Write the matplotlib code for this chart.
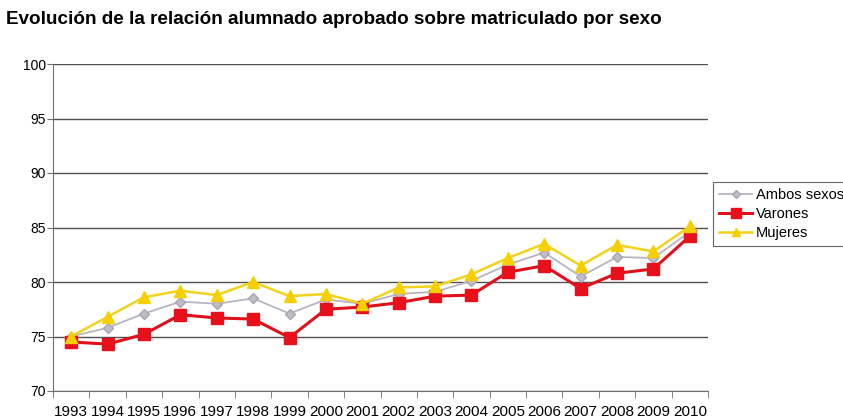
import matplotlib
matplotlib.use("Agg")
import matplotlib.pyplot as plt
import numpy as np

years = [str(y) for y in range(1993, 2011)]
ambos = [75.0, 75.8, 77.1, 78.2, 78.0, 78.5, 77.1, 78.4, 78.0, 78.9, 79.1, 80.1, 81.6, 82.7, 80.5, 82.3, 82.2, 84.6]
varones = [74.5, 74.3, 75.2, 77.0, 76.7, 76.6, 74.9, 77.5, 77.7, 78.1, 78.7, 78.8, 80.9, 81.5, 79.4, 80.8, 81.2, 84.2]
mujeres = [75.0, 76.8, 78.6, 79.2, 78.8, 80.0, 78.7, 78.9, 78.0, 79.5, 79.6, 80.7, 82.2, 83.5, 81.5, 83.4, 82.8, 85.1]

plt.rcParams['font.family'] = ['Liberation Sans', 'DejaVu Sans']

fig = plt.figure(figsize=(8.43, 4.18), dpi=100)
ax = fig.add_axes([53/843, 1-391/418, (708-53)/843, (391-64)/418])

x = np.arange(len(years))
ax.plot(x, ambos, color='#b8b4c4', lw=1.3, marker='D', ms=5, mfc='#c0bcc8', mec='#a8a4b4', label='Ambos sexos', zorder=3)
ax.plot(x, varones, color='#e0101a', lw=2.2, marker='s', ms=9, mfc='#e8101a', mec='#e8101a', label='Varones', zorder=4)
ax.plot(x, mujeres, color='#f2d21a', lw=1.8, marker='^', ms=8, mfc='#f5d000', mec='#f5d000', label='Mujeres', zorder=5)

ax.set_xlim(-0.5, len(years) - 0.5)
ax.set_ylim(70, 100)
ax.set_yticks(range(70, 101, 5))
ax.yaxis.grid(True, color='#505050', lw=1.0)
ax.set_axisbelow(True)

ax.set_xticks(x)
ax.set_xticklabels(years, fontsize=11)
ax.tick_params(axis='x', which='major', length=0, pad=10)
ax.set_xticks(np.arange(-0.5, len(years)), minor=True)
ax.tick_params(axis='x', which='minor', length=5, color='#707070', direction='out')
ax.tick_params(axis='y', length=4, color='#707070', labelsize=10, pad=1)

for s in ['top', 'right']:
    ax.spines[s].set_visible(False)
for s in ['left', 'bottom']:
    ax.spines[s].set_color('#707070')

fig.text(6/843, 1-19/418, 'Evolución de la relación alumnado aprobado sobre matriculado por sexo',
         fontsize=13.6, fontweight='bold', ha='left', va='center')

leg = fig.legend(loc='upper left', bbox_to_anchor=(713/843, 1-182/418), fontsize=10.5,
                 frameon=True, fancybox=False, edgecolor='#404040', handlelength=2.3,
                 borderpad=0.4, labelspacing=0.35, handletextpad=0.25, borderaxespad=0,
                 markerscale=0.8)
leg.get_frame().set_linewidth(0.8)

fig.savefig('out.png', dpi=100)
